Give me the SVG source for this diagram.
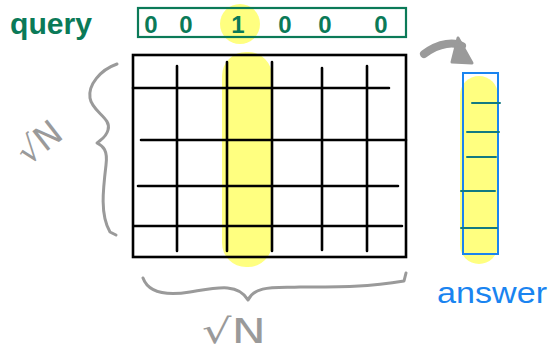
<svg xmlns="http://www.w3.org/2000/svg" width="548" height="354" viewBox="0 0 548 354">
<style>
.hl{fill:#ffff80;stroke:none}
.grid{stroke:#000;stroke-width:2.6;fill:none;stroke-linecap:round}
.brace{stroke:#9a9a9a;stroke-width:3;fill:none;stroke-linecap:round;stroke-linejoin:round}
.gray{fill:#9a9a9a;font-family:"DejaVu Sans",sans-serif}
.green{fill:#0b7a58;font-family:"Liberation Sans",sans-serif;font-weight:bold}
.tick{stroke:#137a82;stroke-width:2;fill:none;stroke-linecap:round}
</style>
<rect width="548" height="354" fill="#fff"/>
<g id="query-label"><text class="green" x="10" y="34" font-size="30" textLength="82" lengthAdjust="spacingAndGlyphs">query</text></g>
<g id="query-vector">
<circle class="hl" cx="240" cy="24" r="20"/>
<rect x="138" y="8" width="268" height="29" fill="none" stroke="#0b7a58" stroke-width="2.2"/>
<g class="green" font-size="24" text-anchor="middle">
<text x="151" y="33">0</text><text x="186" y="33">0</text><text x="238" y="33">1</text><text x="285" y="33">0</text><text x="325" y="33">0</text><text x="381" y="33">0</text>
</g>
</g>
<g id="matrix">
<rect class="hl" x="222" y="52" width="50" height="215" rx="24"/>
<rect x="133" y="55" width="273" height="202" class="grid"/>
<path class="grid" d="M177 66V251M227 62V251M272 62V251M322 68V250M367 66V251M133 88H389M141 140H406M138 186H398M134 226H402"/>
</g>
<g id="row-brace">
<path class="brace" d="M117 64C100 70 88 85 90 98C92 112 112 118 108 130C106 138 100 140 97 143C103 146 108 150 106 165C103 190 100 215 110 232L116 235"/>
<text class="gray" font-size="34" transform="translate(28 166) rotate(-38)">√N</text>
</g>
<g id="col-brace">
<path class="brace" d="M143 278C148 292 165 296 190 292C215 288 238 282 248 300C255 285 275 288 300 287C340 287 370 287 404 281L406 273"/>
<text class="gray" font-size="34" x="202" y="343" textLength="64" lengthAdjust="spacingAndGlyphs">√N</text>
</g>
<g id="connectors">
<path d="M424 54C440 42 455 42 462 46" fill="none" stroke="#9a9a9a" stroke-width="8" stroke-linecap="round"/>
<path d="M458 38L472 63L452 62Z" fill="#9a9a9a" stroke="#9a9a9a" stroke-width="3" stroke-linejoin="round"/>
</g>
<g id="answer-vector">
<rect class="hl" x="460" y="76" width="38" height="188" rx="19"/>
<rect x="463" y="73" width="35" height="181" fill="none" stroke="#1a84f0" stroke-width="2"/>
<path class="tick" d="M472 103H500M467 132H499M467 157H496M461 191H495M461 228H497"/>
</g>
<g id="answer-label"><text x="437" y="303" font-size="30" fill="#1a84f0" font-family="Liberation Sans,sans-serif" textLength="110" lengthAdjust="spacingAndGlyphs">answer</text></g>
</svg>
